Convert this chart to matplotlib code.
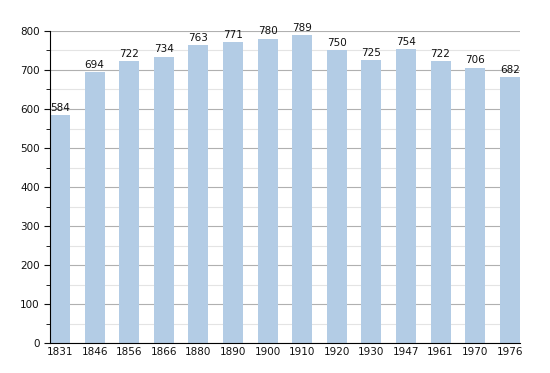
import matplotlib.pyplot as plt
import numpy as np

years = ["1831", "1846", "1856", "1866", "1880", "1890", "1900",
         "1910", "1920", "1930", "1947", "1961", "1970", "1976"]
population = [584, 694, 722, 734, 763, 771, 780, 789, 750, 725, 754, 722, 706, 682]

fig = plt.figure(figsize=(5.5, 3.73), dpi=100)
ax = fig.add_axes([0.091, 0.0804, 0.854, 0.8365])

x = np.arange(len(years))
w = 0.58
bars = ax.bar(x, population, width=w, color="#b3cce5", zorder=2)
for xi, v in zip(x, population):
    ax.text(xi, v + 6, str(v), ha="center", va="bottom", fontsize=7.5, color="#111111")

ax.set_xlim(-w / 2, len(years) - 1 + w / 2)
ax.set_ylim(0, 800)
ax.set_yticks(range(0, 801, 100))
ax.set_yticks(range(50, 800, 100), minor=True)
ax.set_xticks(x)
ax.set_xticklabels(years)
ax.tick_params(axis="both", labelsize=7.5, colors="#111111")
ax.tick_params(axis="x", length=0, pad=3)
ax.tick_params(axis="y", which="major", length=4)
ax.tick_params(axis="y", which="minor", length=3)

ax.grid(axis="y", which="major", color="#b0b0b0", linewidth=0.8, zorder=0)
ax.grid(axis="y", which="minor", color="#e4e4e4", linewidth=0.8, zorder=0)
ax.set_axisbelow(True)
for s in ["top", "right"]:
    ax.spines[s].set_visible(False)

fig.savefig("out.png", dpi=100)
